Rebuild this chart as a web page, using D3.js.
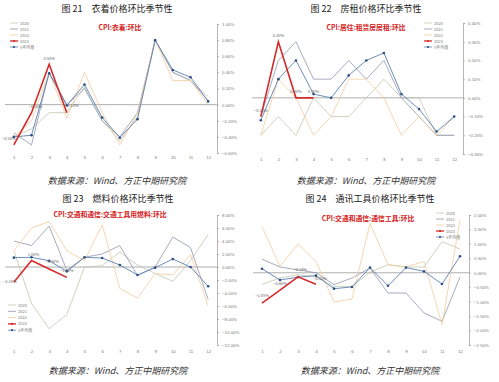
<!DOCTYPE html>
<html>
<head>
<meta charset="utf-8">
<script src="https://cdn.jsdelivr.net/npm/d3@7.9.0/dist/d3.min.js"></script>
<style>
  body { margin: 0; background: #fff; }
  svg { display: block; font-family: "Noto Sans CJK SC", "Noto Sans", sans-serif; }
  .tiny { font-size: 4.4px; fill: #777; }
</style>
</head>
<body>
<div id="chart"></div>
<script>
const months = [1, 2, 3, 4, 5, 6, 7, 8, 9, 10, 11, 12];
const seriesNames = ['2020', '2021', '2022', '2023', '5年均值'];

// 图21 衣着
const cloth2020 = [-0.40, -0.30, -0.10, -0.10, 0.22, -0.20, -0.45, -0.15, 0.80, 0.40, 0.30, 0.10];
const cloth2021 = [-0.35, -0.50, 0.40, 0.00, 0.20, -0.20, -0.40, -0.10, 0.80, 0.40, 0.30, 0.05];
const cloth2022 = [-0.40, -0.20, 0.40, -0.17, 0.40, -0.10, -0.50, -0.10, 0.80, 0.30, 0.30, 0.00];
const cloth2023 = [-0.50, -0.10, 0.50, -0.10];
const clothAvg = [-0.40, -0.38, 0.39, -0.01, 0.25, -0.16, -0.41, -0.18, 0.80, 0.43, 0.34, 0.04];
const clothTicks = [-0.6, -0.4, -0.2, 0, 0.2, 0.4, 0.6, 0.8, 1.0];

// 图22 房租
const rent2020 = [-0.20, -0.10, -0.20, 0.00, -0.10, -0.10, 0.00, 0.10, 0.00, 0.00, -0.20, -0.20];
const rent2021 = [-0.10, 0.20, 0.30, 0.10, 0.10, 0.20, 0.10, 0.20, 0.00, -0.10, -0.20, -0.20];
const rent2022 = [-0.20, 0.10, 0.00, -0.20, -0.10, 0.10, 0.10, 0.00, -0.20, -0.10, -0.20, -0.10];
const rent2023 = [-0.10, 0.30, 0.00, 0.00];
const rentAvg = [-0.12, 0.10, 0.20, 0.02, 0.00, 0.12, 0.20, 0.24, 0.02, -0.06, -0.18, -0.10];
const rentTicks = [-0.3, -0.2, -0.1, 0, 0.1, 0.2, 0.3, 0.4];

// 图23 燃料
const fuel2020 = [2.5, -5.6, -9.5, -7.3, 0.0, 0.2, 2.3, 0.3, -1.0, -2.2, 1.0, 5.0];
const fuel2021 = [4.0, 3.3, 6.3, -0.5, 1.5, 2.0, 3.3, -1.3, 0.0, 4.6, 3.0, -5.0];
const fuel2022 = [2.5, 6.0, 7.0, 2.5, 1.0, 6.5, -3.3, -4.8, -1.0, -1.2, 1.9, -6.0];
const fuel2023 = [-2.35, 1.00, -0.30, -1.60];
const fuelAvg = [1.44, 1.49, 0.97, -0.67, 1.49, 1.38, 0.31, -1.23, -0.10, 1.23, 0.00, -2.97];
const fuelTicks = [-12, -10, -8, -6, -4, -2, 0, 2, 4, 6, 8];

// 图24 通讯工具
const phone2020 = [-0.40, -0.18, -0.07, -0.13, -0.47, -0.47, 0.02, 0.28, 0.20, 0.20, 1.08, 0.82];
const phone2021 = [0.47, 0.20, 0.10, 0.00, -0.41, -0.18, 0.16, -0.70, -0.70, -1.39, -1.68, -0.15];
const phone2022 = [1.60, 0.22, 1.00, 0.39, -1.01, -0.91, 1.71, 0.28, 0.20, 0.39, -1.79, 1.83];
const phone2023 = [-1.05, -0.60, -0.14, -0.40];
const phoneAvg = [0.14, -0.25, -0.15, -0.10, -0.55, -0.49, 0.18, -0.45, 0.18, 0.05, -0.39, 0.57];
const phoneTicks = [-2.5, -2.0, -1.5, -1.0, -0.5, 0, 0.5, 1.0, 1.5, 2.0];

const colors = {
  '2020': '#c4c6ae',
  '2021': '#9096ae',
  '2022': '#f3cc9c',
  '2023': '#d42a2a',
  '5年均值': '#5a80b0'
};

const svg = d3.select('#chart').append('svg')
  .attr('width', 499)
  .attr('height', 382);

function drawPanel(p) {
  const g = svg.append('g');
  const x = d3.scalePoint().domain(months).range(p.xRange).padding(0.5);
  const y = d3.scaleLinear().domain(p.yDomain).range(p.yRange);

  // title
  g.append('text')
    .attr('x', p.titleX).attr('y', p.titleY)
    .attr('text-anchor', 'middle')
    .style('font-size', '9px').style('fill', '#222')
    .text(p.title);

  // caption
  g.append('text')
    .attr('x', p.titleX).attr('y', p.captionY)
    .attr('text-anchor', 'middle')
    .style('font-size', '9px').style('fill', '#333').style('font-style', 'italic')
    .text('数据来源：Wind、方正中期研究院');

  // red subtitle
  g.append('text')
    .attr('x', p.subX).attr('y', p.subY)
    .attr('text-anchor', 'middle')
    .style('font-size', '6.8px').style('font-weight', 'bold').style('fill', '#d42020')
    .text(p.subtitle);

  // zero line
  g.append('line')
    .attr('x1', p.xRange[0]).attr('x2', p.xRange[1])
    .attr('y1', y(0)).attr('y2', y(0))
    .attr('stroke', '#9a9a9a').attr('stroke-width', 0.8);

  // right axis
  const yAxis = g.append('g')
    .attr('transform', `translate(${p.xRange[1]},0)`)
    .call(d3.axisRight(y).tickValues(p.ticks).tickSize(2).tickPadding(3)
      .tickFormat(d => d3.format(p.tickFmt)(d) + '%'));
  yAxis.select('.domain').attr('stroke', '#999').attr('stroke-width', 0.7);
  yAxis.selectAll('line').attr('stroke', '#999').attr('stroke-width', 0.6);
  yAxis.selectAll('text').attr('class', 'tiny').style('font-family', 'inherit');
  yAxis.attr('font-size', null);

  // month labels
  const xAxis = g.append('g')
    .attr('transform', `translate(0,${p.monthY})`)
    .call(d3.axisBottom(x).tickSize(0).tickPadding(0));
  xAxis.select('.domain').remove();
  xAxis.selectAll('text').attr('class', 'tiny').style('font-family', 'inherit');
  xAxis.attr('font-size', null);

  const line = d3.line().x((d, i) => x(months[i])).y(d => y(d));

  const order = ['2020', '2021', '2022', '5年均值', '2023'];
  order.forEach(name => {
    const vals = p.series[name];
    g.append('path')
      .datum(vals)
      .attr('fill', 'none')
      .attr('stroke', colors[name])
      .attr('stroke-width', name === '2023' ? 1.6 : (name === '5年均值' ? 0.9 : 0.8))
      .attr('d', line);
    if (name === '5年均值') {
      g.selectAll(null).data(vals).join('circle')
        .attr('cx', (d, i) => x(months[i]))
        .attr('cy', d => y(d))
        .attr('r', 1.3)
        .attr('fill', '#2c4f80');
    }
  });

  // labels for 2023
  g.selectAll(null).data(p.series['2023']).join('text')
    .attr('class', 'tiny')
    .attr('x', (d, i) => x(months[i]) + p.labelOff[i][0])
    .attr('y', (d, i) => y(d) + p.labelOff[i][1])
    .attr('text-anchor', 'middle')
    .style('font-size', '4px').style('fill', '#666')
    .text(d => d3.format('.2f')(d) + '%');

  // legend
  const lg = g.append('g').attr('transform', `translate(${p.legendX},${p.legendY})`);
  seriesNames.forEach((name, i) => {
    const row = lg.append('g').attr('transform', `translate(0,${i * p.legendStep})`);
    row.append('line')
      .attr('x1', 0).attr('x2', 8).attr('y1', 0).attr('y2', 0)
      .attr('stroke', colors[name])
      .attr('stroke-width', name === '2023' ? 1.3 : 0.8);
    if (name === '5年均值' || name === '2023') {
      row.append('circle').attr('cx', 4).attr('cy', 0).attr('r', 1.1)
        .attr('fill', name === '2023' ? '#d42a2a' : '#2c4f80');
    }
    row.append('text')
      .attr('x', 10).attr('y', 1.5)
      .style('font-size', '4px').style('fill', '#777')
      .text(name);
  });
}

drawPanel({
  title: '图 21　衣着价格环比季节性', titleX: 117, titleY: 12, captionY: 184,
  subtitle: 'CPI:衣着:环比', subX: 120, subY: 30,
  xRange: [5, 217], yDomain: [-0.6, 1.0], yRange: [153, 24], monthY: 156,
  ticks: clothTicks, tickFmt: '.2f',
  series: { '2020': cloth2020, '2021': cloth2021, '2022': cloth2022, '2023': cloth2023, '5年均值': clothAvg },
  labelOff: [[-5, -5], [4, -5], [0, -4], [5, -6]],
  legendX: 10, legendY: 23, legendStep: 6
});

drawPanel({
  title: '图 22　房租价格环比季节性', titleX: 366, titleY: 12, captionY: 184,
  subtitle: 'CPI:居住:租赁房房租:环比', subX: 366, subY: 30,
  xRange: [252, 463], yDomain: [-0.3, 0.4], yRange: [154, 23], monthY: 158,
  ticks: rentTicks, tickFmt: '.2f',
  series: { '2020': rent2020, '2021': rent2021, '2022': rent2022, '2023': rent2023, '5年均值': rentAvg },
  labelOff: [[0, -5], [0, -5], [0, -5], [0, -5]],
  legendX: 424, legendY: 23, legendStep: 6
});

drawPanel({
  title: '图 23　燃料价格环比季节性', titleX: 118, titleY: 202, captionY: 374,
  subtitle: 'CPI:交通和通信:交通工具用燃料:环比', subX: 110, subY: 217,
  xRange: [5, 217], yDomain: [-12, 8], yRange: [345, 215], monthY: 350,
  ticks: fuelTicks, tickFmt: '.2f',
  series: { '2020': fuel2020, '2021': fuel2021, '2022': fuel2022, '2023': fuel2023, '5年均值': fuelAvg },
  labelOff: [[-4, 1], [2, -5], [3, -6], [0, -5]],
  legendX: 8, legendY: 305, legendStep: 6.3
});

drawPanel({
  title: '图 24　通讯工具价格环比季节性', titleX: 370, titleY: 202, captionY: 374,
  subtitle: 'CPI:交通和通信:通信工具:环比', subX: 368, subY: 221,
  xRange: [253, 469], yDomain: [-2.5, 2.0], yRange: [345, 215], monthY: 350,
  ticks: phoneTicks, tickFmt: '.2f',
  series: { '2020': phone2020, '2021': phone2021, '2022': phone2022, '2023': phone2023, '5年均值': phoneAvg },
  labelOff: [[0, -6], [0, -5], [2, -6], [4, -4]],
  legendX: 436, legendY: 213, legendStep: 6
});
</script>
</body>
</html>
